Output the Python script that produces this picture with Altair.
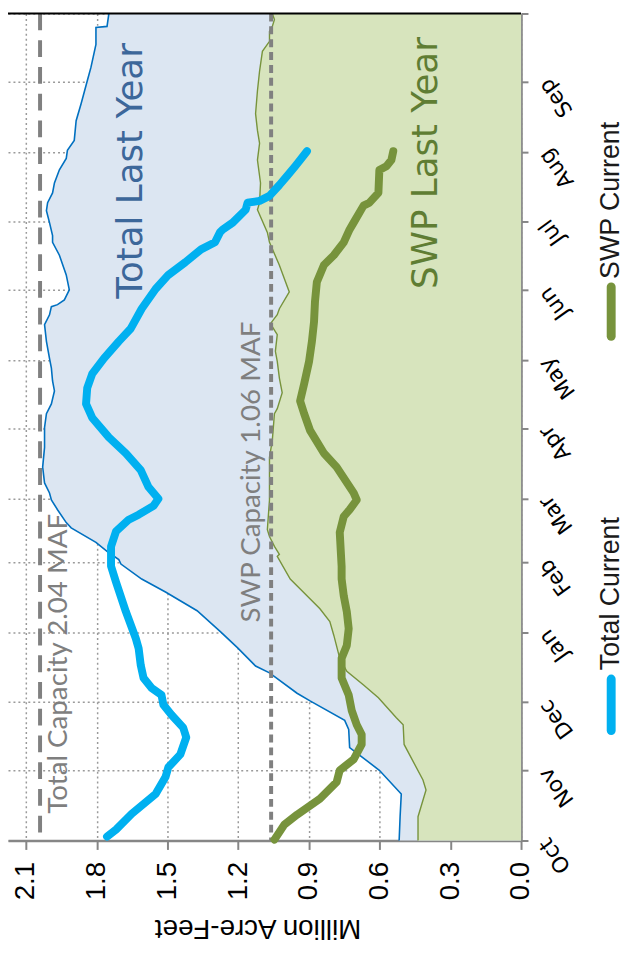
import altair as alt
import pandas as pd

# ---- axis definitions -------------------------------------------------
month_starts = [0, 31, 61, 92, 123, 151, 182, 212, 243, 273, 304, 335, 365]
month_labels = ["Oct", "Nov", "Dec", "Jan", "Feb", "Mar", "Apr", "May",
                "Jun", "Jul", "Aug", "Sep", ""]
value_ticks = [0.0, 0.3, 0.6, 0.9, 1.2, 1.5, 1.8, 2.1]

# ---- Total storage, last year (day of water year, million acre-feet) --
tly_day = [0, 10.5, 20.5, 31, 41, 49, 53, 61.6, 65, 74, 77, 85, 92, 101.4,
           109.7, 115.4, 122, 124, 127, 131.6, 138, 140.3, 146, 150.3, 153.4,
           157.8, 164.8, 173.5, 182.3, 188.4, 192.7, 198.4, 202.8, 208.5,
           212.8, 220.3, 227.7, 232, 235.6, 236.5, 238.6, 243, 249.6, 258.3,
           264, 267, 272.7, 278, 281.5, 285.8, 290.2, 296, 301, 304.6, 309,
           317.7, 325.2, 335.2, 341.3, 351.4, 358.8, 359.3, 365]
tly_val = [0.517, 0.513, 0.508, 0.601, 0.727, 0.731, 0.748, 0.895, 0.950,
           1.067, 1.126, 1.202, 1.273, 1.374, 1.508, 1.609, 1.697, 1.706,
           1.748, 1.803, 1.908, 1.929, 1.966, 1.992, 2.000, 2.021, 2.029,
           2.021, 2.021, 2.013, 1.992, 1.979, 1.987, 1.992, 2.000, 2.013,
           2.021, 2.000, 1.992, 1.966, 1.937, 1.916, 1.929, 1.958, 1.987,
           1.987, 2.000, 2.013, 2.008, 1.987, 1.979, 1.958, 1.929, 1.924,
           1.895, 1.887, 1.866, 1.840, 1.824, 1.803, 1.803, 1.756, 1.748]

# ---- SWP storage, last year -------------------------------------------
sly_day = [0, 10.5, 22.3, 26.7, 42.4, 51.1, 54.2, 63, 68.6, 74.7, 80.4, 90.5,
           96.6, 102.3, 108, 115.4, 125.4, 126.3, 129.8, 134.2, 137.2, 150.3,
           169.1, 176.6, 188.4, 190.6, 197.6, 204.1, 211.5, 215.9, 223.3,
           228.1, 232.1, 234.7, 242.1, 253.9, 264, 268.4, 278.4, 281.5, 290.2,
           300.3, 307.7, 313.4, 320.8, 330.9, 339.6, 348.3, 352.7, 357.1,
           359.3, 362.3, 365]
sly_val = [0.437, 0.437, 0.403, 0.416, 0.496, 0.500, 0.529, 0.605, 0.668,
           0.739, 0.769, 0.794, 0.811, 0.853, 0.908, 0.979, 1.034, 1.025,
           1.046, 1.067, 1.076, 1.067, 1.067, 1.055, 1.046, 1.034, 1.013,
           1.025, 1.034, 1.042, 1.034, 1.063, 1.034, 1.025, 0.983, 1.025,
           1.067, 1.076, 1.118, 1.109, 1.105, 1.118, 1.109, 1.118, 1.126,
           1.118, 1.109, 1.097, 1.067, 1.067, 1.055, 1.046, 1.055]

# ---- Total storage, current year ----------------------------------------
tc_day = [1.7, 4.8, 11.8, 20.5, 28, 32.3, 38, 45.5, 49.8, 55.5, 59.9, 64.2,
          67.3, 71.7, 77.4, 84.8, 89.2, 101, 114.1, 121.1, 129.8, 136.4,
          141.6, 143.8, 147.7, 150.8, 156, 163.5, 170.9, 177.9, 186.6, 192.7,
          199.7, 205.9, 212.8, 220.3, 226, 234.7, 243.4, 249.6, 255.2, 260.9,
          264, 268.4, 269.7, 272.7, 278.4, 281.5, 282.3, 284.5, 289.3, 293.3,
          297.6, 300.3, 304.2]
tc_val = [1.756, 1.718, 1.651, 1.550, 1.508, 1.496, 1.445, 1.420, 1.433,
          1.483, 1.517, 1.525, 1.567, 1.601, 1.613, 1.622, 1.634, 1.676,
          1.718, 1.739, 1.739, 1.718, 1.664, 1.622, 1.559, 1.538, 1.580,
          1.613, 1.676, 1.748, 1.819, 1.845, 1.840, 1.819, 1.769, 1.706,
          1.655, 1.609, 1.550, 1.496, 1.424, 1.357, 1.298, 1.277, 1.265,
          1.223, 1.168, 1.160, 1.109, 1.067, 1.025, 0.992, 0.958, 0.937,
          0.908]

# ---- SWP storage, current year ------------------------------------------
sc_day = [0.4, 7, 11.4, 18.4, 25.8, 31, 35.8, 42.4, 46.8, 51.1, 57.3, 64.2,
          71.7, 80.4, 86.1, 93.5, 101, 108, 115.4, 121, 136, 143, 146, 150.3,
          153.4, 164.8, 170.9, 181, 188.4, 194, 201.5, 211.5, 220.3, 229,
          237.8, 246.5, 254, 258.3, 264, 269.7, 272.7, 280.2, 281.5, 285.8,
          295.9, 297.6, 300.3, 304.2]
sc_val = [1.046, 1.004, 0.950, 0.853, 0.782, 0.769, 0.710, 0.676, 0.676,
          0.697, 0.718, 0.731, 0.761, 0.761, 0.739, 0.731, 0.739, 0.752,
          0.761, 0.761, 0.769, 0.752, 0.727, 0.697, 0.710, 0.782, 0.836,
          0.895, 0.920, 0.937, 0.920, 0.899, 0.887, 0.878, 0.874, 0.866,
          0.836, 0.794, 0.752, 0.727, 0.710, 0.668, 0.643, 0.605, 0.601,
          0.571, 0.550, 0.542]

# ---- capacities & annotations --------------------------------------------
capacity_vals = [2.04, 1.06]
ann_text = ["Total Last Year", "SWP Last Year"]
ann_val = [1.655, 0.403]
ann_day = [295.5, 299]
cap_text = ["Total Capacity 2.04 MAF", "SWP Capacity 1.06 MAF"]
cap_text_val = [1.958, 1.139]
cap_text_day = [78, 162.6]
legend_labels = ["Total Current", "SWP Current"]

# ---- frames ----------------------------------------------------------------
def frame(days, vals):
    return pd.DataFrame({"day": days, "value": vals})

df_tly = frame(tly_day, tly_val)
df_sly = frame(sly_day, sly_val)
df_tc = frame(tc_day, tc_val)
df_sc = frame(sc_day, sc_val)
df_months = pd.DataFrame({"day": month_starts[:-1], "label": month_labels[:-1]})

GRID = "#9a9a9a"
AXC = "#868686"

X = alt.X("value:Q",
          scale=alt.Scale(domain=[0, 2.176], reverse=True, nice=False, zero=True),
          axis=alt.Axis(values=value_ticks, format=".1f", labelAngle=270,
                        labelAlign="right", labelBaseline="middle",
                        labelFont="Liberation Sans", labelFontSize=28,
                        labelColor="black", labelPadding=12, labelFlush=False,
                        labelOverlap=False, tickSize=9, tickColor=AXC,
                        tickWidth=2, domainColor=AXC, domainWidth=2.5,
                        grid=True, gridColor=GRID, gridDash=[2, 3],
                        gridWidth=1.5, title="Million Acre-Feet",
                        titleAngle=180, titleFont="Liberation Sans",
                        titleFontSize=28, titleFontWeight="normal",
                        titleColor="black", titleX=252, titleY=88,
                        titleAlign="center", titleBaseline="middle"))
Y = alt.Y("day:Q",
          scale=alt.Scale(domain=[0, 365], nice=False, zero=True),
          axis=alt.Axis(orient="right", values=month_starts, labels=False,
                        tickSize=7, tickColor=AXC, tickWidth=2,
                        domainColor=AXC, domainWidth=2.5, grid=True,
                        gridColor=GRID, gridDash=[2, 3], gridWidth=1.5,
                        title=None))

area_total = alt.Chart(df_tly).mark_area(orient="horizontal", color="#dce6f2").encode(x=X, y=Y)
area_swp = alt.Chart(df_sly).mark_area(orient="horizontal", color="#d7e4bd").encode(x=X, y=Y)
line_tly = alt.Chart(df_tly).mark_line(color="#0070c0", strokeWidth=1.6).encode(x=X, y=Y, order="day:Q")
line_sly = alt.Chart(df_sly).mark_line(color="#77933c", strokeWidth=1.4).encode(x=X, y=Y, order="day:Q")

cap_total = alt.Chart(pd.DataFrame({"value": [capacity_vals[0]]})).mark_rule(
    color="#808080", strokeWidth=4, strokeDash=[17, 10]).encode(x=X)
cap_swp = alt.Chart(pd.DataFrame({"value": [capacity_vals[1]]})).mark_rule(
    color="#808080", strokeWidth=4, strokeDash=[8, 5]).encode(x=X)

line_tc = alt.Chart(df_tc).mark_line(color="#00b0f0", strokeWidth=8, strokeCap="round",
                                     strokeJoin="round").encode(x=X, y=Y, order="day:Q")
line_sc = alt.Chart(df_sc).mark_line(color="#77933c", strokeWidth=8, strokeCap="round",
                                     strokeJoin="round").encode(x=X, y=Y, order="day:Q")

ann_df = pd.DataFrame({"value": ann_val, "day": ann_day, "label": ann_text,
                       "col": ["#3c679a", "#5f7d33"]})
ann = alt.Chart(ann_df).mark_text(angle=270, align="center", baseline="middle",
                                  font="DejaVu Sans", fontSize=36).encode(
    x=X, y=Y, text="label:N", color=alt.Color("col:N", scale=None))

cap_df = pd.DataFrame({"value": cap_text_val, "day": cap_text_day, "label": cap_text})
cap_lbl = alt.Chart(cap_df).mark_text(angle=270, align="center", baseline="middle",
                                      font="Lato", fontSize=28, color="#7f7f7f").encode(
    x=X, y=Y, text="label:N")

# month labels, rotated like the rest of the chart
month_lbl = alt.Chart(df_months).mark_text(angle=234, align="right", baseline="middle",
                                           font="DejaVu Sans", fontSize=22,
                                           color="black").encode(
    x=alt.value(541), y=Y, text="label:N")

# legend (drawn beside the axis, rotated like the chart)
leg_df = pd.DataFrame({"label": legend_labels})
leg1_sym = alt.Chart(leg_df.iloc[[0]]).mark_rule(color="#00b0f0", strokeWidth=9, strokeCap="round").encode(
    x=alt.value(609), y=alt.value(672), y2=alt.value(724))
leg1_txt = alt.Chart(leg_df.iloc[[0]]).mark_text(angle=270, align="left", baseline="middle",
                                                 font="Liberation Sans", fontSize=27, color="#1a1a1a").encode(
    x=alt.value(609), y=alt.value(663), text="label:N")
leg2_sym = alt.Chart(leg_df.iloc[[1]]).mark_rule(color="#77933c", strokeWidth=9, strokeCap="round").encode(
    x=alt.value(609), y=alt.value(276), y2=alt.value(326))
leg2_txt = alt.Chart(leg_df.iloc[[1]]).mark_text(angle=270, align="left", baseline="middle",
                                                 font="Liberation Sans", fontSize=27, color="#1a1a1a").encode(
    x=alt.value(609), y=alt.value(268), text="label:N")

top_border = alt.Chart(leg_df.iloc[[0]]).mark_rule(color="black", strokeWidth=2).encode(
    x=alt.value(0), x2=alt.value(518), y=alt.value(0))

chart = alt.layer(
    area_total, area_swp, line_tly, line_sly, cap_total, cap_swp,
    line_tc, line_sc, ann, cap_lbl, month_lbl, leg1_sym, leg1_txt, leg2_sym,
    leg2_txt, top_border
).properties(
    width=518, height=835,
    padding={"left": 0, "top": 1, "right": 110, "bottom": 105},
    autosize=alt.AutoSizeParams(type="none"),
    background="white",
).configure_view(stroke=None)

chart.save("out.html", embed_options={"renderer": "svg", "actions": False})
